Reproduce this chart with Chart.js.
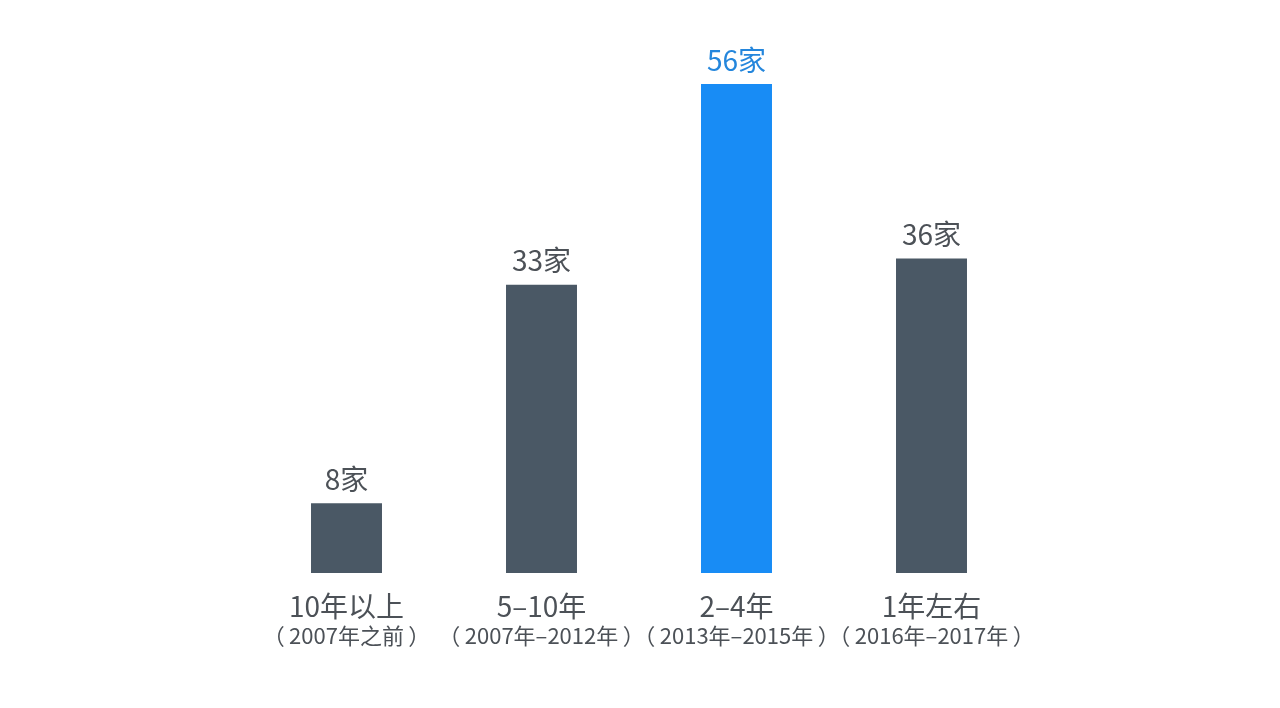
<!DOCTYPE html>
<html>
<head>
<meta charset="utf-8">
<script src="https://cdn.jsdelivr.net/npm/chart.js@4/dist/chart.umd.min.js"></script>
<style>
  html, body { margin: 0; padding: 0; background: #ffffff; }
  #wrap { width: 1280px; height: 708px; }
</style>
</head>
<body>
<div id="wrap"><canvas id="chart"></canvas></div>
<script>
// data
let CATEGORIES = ["10年以上", "5–10年", "2–4年", "1年左右"];
let SUB_LABELS = ["（\u20092007年之前\u2009）", "（\u20092007年–2012年\u2009）", "（\u20092013年–2015年\u2009）", "（\u20092016年–2017年\u2009）"];
let VALUES = [8, 33, 56, 36];
let UNIT = "家";

let FONT = "'Noto Sans CJK SC', 'Noto Sans', sans-serif";
let DARK = "#4a5865";
let BLUE = "#188cf5";
let TEXT = "#4c5157";

//Highlight the biggest bar in blue
let maxVal = Math.max.apply(null, VALUES);
let barColors = VALUES.map(function (v) { return v === maxVal ? BLUE : DARK; });
let labelColors = VALUES.map(function (v) { return v === maxVal ? "#2486dc" : TEXT; });

let labelsPlugin = {
    id: 'labels',
    afterDatasetsDraw: function (chart) {
        let ctx = chart.ctx;
        let meta = chart.getDatasetMeta(0);
        let xScale = chart.scales.x;
        ctx.save();
        ctx.textAlign = 'center';
        ctx.textBaseline = 'middle';
        meta.data.forEach(function (bar, i) {
            //value above bar
            ctx.font = "28px " + FONT;
            ctx.fillStyle = labelColors[i];
            ctx.fillText(VALUES[i] + UNIT, bar.x, bar.y - 24);
            //category below
            let x = xScale.getPixelForValue(i);
            ctx.fillStyle = TEXT;
            ctx.font = "28px " + FONT;
            ctx.fillText(CATEGORIES[i], x, chart.chartArea.bottom + 33);
            ctx.font = "22px " + FONT;
            ctx.fillText(SUB_LABELS[i], x, chart.chartArea.bottom + 63);
        });
        ctx.restore();
    }
};

new Chart("chart", {
    type: 'bar',
    data: {
        labels: CATEGORIES,
        datasets: [{
            data: VALUES,
            backgroundColor: barColors,
            borderWidth: 0,
            barPercentage: 0.364,
            categoryPercentage: 1
        }]
    },
    options: {
        responsive: true,
        maintainAspectRatio: false,
        animation: false,
        layout: { padding: { left: 249, right: 251, top: 14, bottom: 135 } },
        plugins: {
            legend: { display: false },
            tooltip: { enabled: false }
        },
        scales: {
            x: { display: false },
            y: { display: false, min: 0, max: 64 }
        }
    },
    plugins: [labelsPlugin]
});
</script>
</body>
</html>
